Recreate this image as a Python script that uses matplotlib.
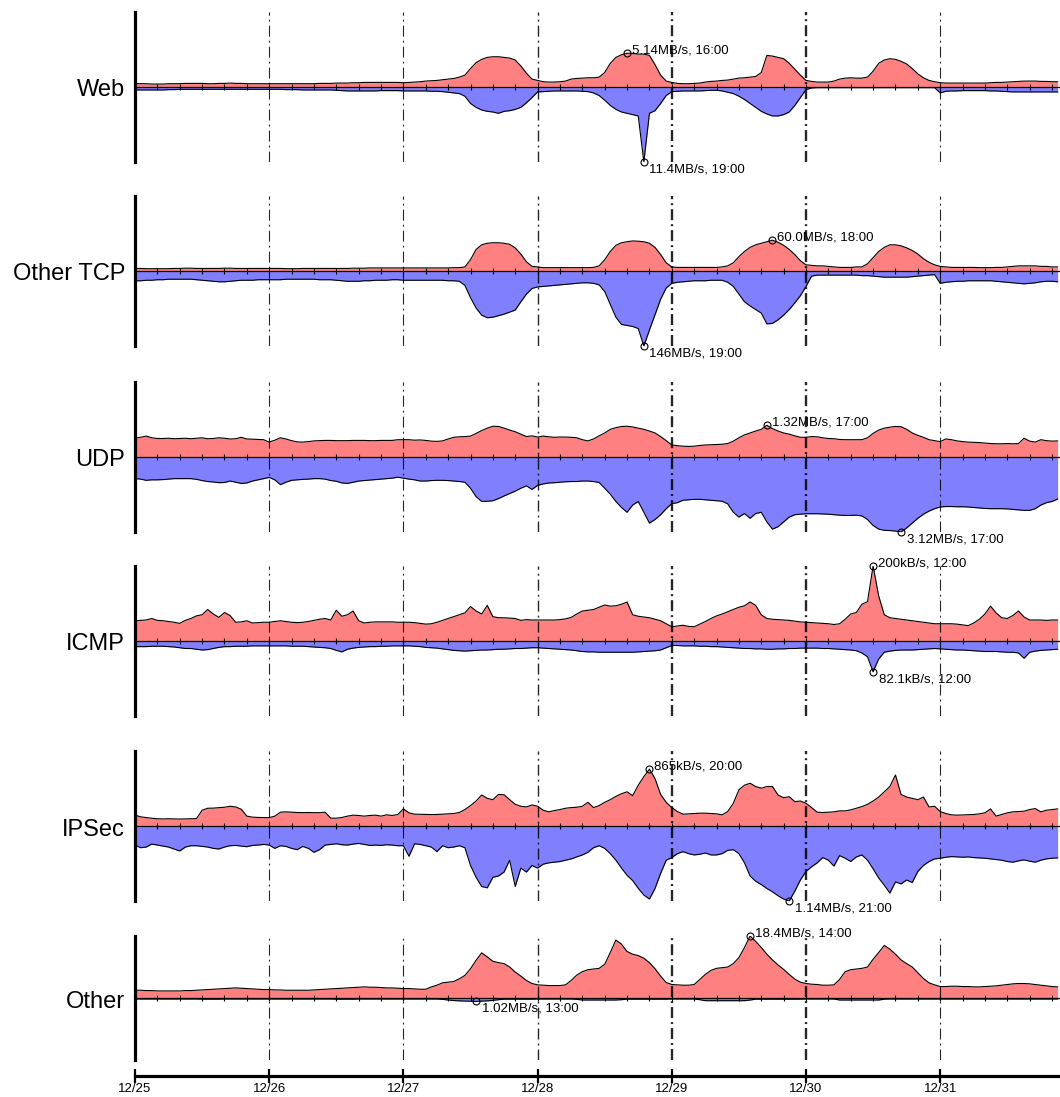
import numpy as np
import matplotlib
matplotlib.use("Agg")
import matplotlib.pyplot as plt

plt.rcParams['lines.scale_dashes'] = False
plt.rcParams['font.family'] = ['Liberation Sans', 'DejaVu Sans']

# ---------------- data (hourly from 12/25 00:00) ----------------
hours = np.arange(166)
day_labels = ['12/25', '12/26', '12/27', '12/28', '12/29', '12/30', '12/31']
panel_names = ['Web', 'Other TCP', 'UDP', 'ICMP', 'IPSec', 'Other']

web_in = [0.55,0.5,0.5,0.45,0.45,0.45,0.5,0.5,0.5,0.55,0.55,0.55,0.55,0.5,0.5,0.55,0.55,0.6,0.55,0.55,0.5,0.5,0.5,0.5,
          0.5,0.5,0.5,0.5,0.5,0.5,0.5,0.5,0.5,0.55,0.55,0.55,0.6,0.6,0.6,0.65,0.65,0.7,0.7,0.7,0.7,0.7,0.7,0.7,
          0.65,0.7,0.75,0.8,0.9,0.95,1.0,1.1,1.2,1.3,1.5,1.8,2.8,3.7,4.2,4.5,4.6,4.6,4.5,4.4,4.1,3.2,2.1,1.2,
          1.0,0.8,0.75,0.75,0.8,0.9,1.2,1.3,1.35,1.4,1.4,1.5,2.2,3.6,4.5,4.9,5.14,5.1,5.0,5.0,4.8,3.4,1.8,0.9,
          0.7,0.55,0.5,0.5,0.55,0.6,0.75,0.85,0.9,1.0,1.05,1.2,1.35,1.4,1.5,1.6,2.2,4.8,4.7,4.5,4.3,3.6,2.7,1.8,
          1.0,0.85,0.75,0.75,0.75,0.9,1.2,1.35,1.4,1.35,1.35,1.5,2.4,3.6,4.1,4.3,4.2,3.9,3.5,2.8,2.0,1.4,1.0,0.8,
          0.65,0.6,0.6,0.6,0.6,0.6,0.6,0.6,0.6,0.65,0.7,0.7,0.75,0.8,0.85,0.9,0.9,0.9,0.85,0.85,0.8,0.8]
web_out = [0.45,0.45,0.45,0.45,0.45,0.45,0.4,0.4,0.35,0.35,0.35,0.35,0.35,0.35,0.35,0.35,0.35,0.35,0.35,0.35,0.35,0.35,0.35,0.35,
           0.35,0.35,0.35,0.4,0.4,0.4,0.45,0.45,0.45,0.45,0.45,0.45,0.5,0.55,0.6,0.6,0.6,0.6,0.6,0.6,0.55,0.55,0.55,0.55,
           0.6,0.6,0.6,0.6,0.6,0.65,0.65,0.7,0.8,0.9,1.0,1.4,2.5,3.1,3.5,3.7,3.8,4.0,3.7,3.6,3.4,3.1,2.4,1.6,
           0.75,0.7,0.65,0.6,0.6,0.6,0.6,0.6,0.65,0.7,0.9,1.3,2.0,2.8,3.4,3.8,4.0,4.2,4.4,11.4,4.0,3.6,2.5,1.3,
           0.7,0.65,0.6,0.6,0.6,0.6,0.55,0.5,0.5,0.6,0.8,1.0,1.4,1.9,2.5,3.1,3.7,4.1,4.4,4.4,4.2,3.8,2.8,1.6,
           0.4,0.15,0.1,0.1,0.1,0.1,0.1,0.1,0.1,0.1,0.1,0.1,0.1,0.1,0.1,0.1,0.1,0.1,0.1,0.1,0.1,0.1,0.1,0.1,
           0.9,0.65,0.6,0.6,0.55,0.55,0.55,0.55,0.55,0.6,0.6,0.65,0.7,0.75,0.75,0.75,0.75,0.75,0.75,0.75,0.75,0.75]

tcp_in = [5,5,4.5,4.5,4.5,4.5,4.5,5,5,5.5,5.5,5,5,5,5,5,5.5,5.5,5,5,5,5,5,5,
          5,5,5,4.5,4.5,4.5,5,5,5,5,5,5,5,5,5,5.5,5.5,5.5,6,6,6,6,6,6,
          6,6,6,6,6,6,6,6,6,6.5,6.5,8,22,42,51,54,55,55,54,52,45,33,18,9,
          8,6.5,6.5,6.5,6.5,6.5,6.5,6.5,6.5,6.5,7,10,22,38,50,55,57,58.5,58,57,54,46,32,16,
          8,7,7,7,7,7,7,7,7,8,10,16,28,38,46,51,54,57,60.0,56,50,42,32,20,
          12,11,10,10,9,8,7,7,7,8,8,14,26,38,46,51,51,49,45,40,33,24,17,12,
          9,8,7,7,7,7,7,6.5,6.5,6.5,7,7,8,9,10,10,10,10,9,9,8,8]
tcp_out = [19,19,18,18,17,17,16,16,16,16,16,17,18,19,20,21,21,20,19,18,18,18,17,17,
           17,17,17,16,16,16,16,16,16,17,17,17,18,19,20,20,20,19,19,18,18,18,17,17,
           18,18,18,18,18,18,18,18,19,19,20,28,52,72,86,91,90,87,84,80,76,60,45,34,
           31,30,29,28,27,26,25,24,23,23,24,27,40,65,90,104,106,108,112,146,115,85,55,33,
           24,22,21,20,19,19,19,18,18,18,22,30,45,60,68,75,82,103,102,95,86,75,62,48,
           30,10,8,8,8,8,8,8,8,8,9,9,10,11,12,12,12,12,12,11,10,9,8,7,
           24,22,21,20,20,19,19,19,19,19,20,21,22,23,24,25,24,23,21,20,20,21]

udp_in = [0.79,0.82,0.87,0.8,0.77,0.77,0.78,0.76,0.77,0.78,0.76,0.78,0.8,0.76,0.77,0.8,0.78,0.75,0.76,0.82,0.75,0.74,0.73,0.72,
          0.62,0.7,0.8,0.75,0.68,0.63,0.62,0.64,0.67,0.68,0.69,0.69,0.68,0.68,0.68,0.69,0.69,0.69,0.68,0.68,0.69,0.69,0.69,0.72,
          0.72,0.72,0.7,0.71,0.69,0.66,0.65,0.67,0.75,0.82,0.84,0.85,0.87,0.98,1.1,1.2,1.28,1.27,1.2,1.12,1.05,0.95,0.85,0.88,
          0.83,0.87,0.84,0.82,0.83,0.83,0.82,0.8,0.72,0.67,0.75,0.88,1.0,1.15,1.22,1.27,1.28,1.25,1.2,1.15,1.08,1.0,0.85,0.68,
          0.5,0.47,0.45,0.44,0.45,0.48,0.5,0.51,0.52,0.53,0.56,0.66,0.8,0.92,1.0,1.08,1.15,1.32,1.18,1.08,1.0,0.95,0.88,0.82,
          0.82,0.85,0.84,0.8,0.77,0.76,0.73,0.72,0.72,0.72,0.72,0.8,0.98,1.12,1.2,1.24,1.27,1.26,1.15,1.0,0.9,0.82,0.72,0.68,
          0.64,0.75,0.72,0.67,0.64,0.62,0.61,0.6,0.58,0.56,0.55,0.55,0.56,0.55,0.56,0.78,0.66,0.62,0.72,0.68,0.66,0.67]
udp_out = [0.9,0.92,0.97,0.95,0.95,0.94,0.92,0.9,0.9,0.9,0.9,0.93,0.98,1.02,1.04,1.07,1.06,1.0,1.05,1.1,1.08,1.0,0.95,0.9,
           0.85,0.95,1.15,1.05,0.97,0.95,0.93,0.92,0.9,0.9,0.92,0.98,1.01,1.08,1.1,1.05,1.0,0.98,0.96,0.94,0.92,0.9,0.88,0.84,
           0.88,0.92,0.95,1.0,1.0,0.98,0.97,0.97,0.98,1.0,1.02,1.05,1.3,1.65,1.85,1.84,1.82,1.73,1.62,1.52,1.42,1.3,1.2,1.35,
           1.18,1.12,1.08,1.07,1.05,1.03,1.02,1.02,1.0,1.0,1.02,1.06,1.3,1.55,1.85,2.1,2.3,2.0,1.85,2.3,2.75,2.6,2.4,2.15,
           1.94,1.9,1.8,1.78,1.76,1.76,1.78,1.8,1.82,1.84,1.95,2.3,2.5,2.35,2.55,2.35,2.3,2.7,3.0,2.9,2.7,2.5,2.4,2.38,
           2.36,2.36,2.36,2.37,2.38,2.4,2.42,2.43,2.43,2.42,2.45,2.6,2.85,3.0,3.05,3.06,3.08,3.12,2.95,2.75,2.55,2.38,2.25,2.15,
           2.08,2.06,2.06,2.07,2.07,2.08,2.1,2.12,2.14,2.15,2.15,2.15,2.16,2.18,2.2,2.22,2.22,2.15,2.0,1.9,1.85,1.75]

icmp_in = [54,55,56,60,55,54,52,50,47,55,60,67,70,84,72,63,76,68,50,51,54,48,49,50,
           50,52,54,52,50,49,50,52,55,58,60,56,82,66,70,80,54,48,50,51,51,51,51,50,
           50,50,49,47,45,46,50,55,60,65,70,75,92,80,72,95,65,62,62,61,60,55,57,56,
           56,56,56,56,57,59,63,72,80,82,84,90,96,93,94,98,104,70,66,64,62,58,54,46,
           38,40,42,39,38,45,52,60,67,72,78,84,90,94,104,95,70,60,58,57,56,55,53,51,
           50,49,48,47,46,44,46,58,72,76,98,105,200,120,70,62,60,58,56,54,52,50,48,46,
           46,46,46,45,43,41,48,58,72,93,75,62,60,68,80,64,56,56,56,55,56,56]
icmp_out = [15,15,15,14,14,14,15,16,18,20,20,22,24,23,20,17,15,15,14,14,14,13,13,13,
            13,13,13,13,14,14,14,15,16,17,18,20,25,29,22,19,17,16,15,15,14,14,13,13,
            13,13,14,15,17,18,19,21,23,25,26,27,26,25,24,24,23,22,22,21,20,20,19,18,
            18,19,20,21,22,23,24,26,28,29,29,30,30,30,30,30,30,30,29,28,27,26,24,18,
            12,12,13,13,13,14,14,15,15,16,17,18,19,20,20,21,21,22,22,21,21,20,20,19,
            19,19,19,20,20,21,22,23,24,26,32,42,82.1,48,30,27,25,24,24,24,23,22,21,20,
            21,22,23,24,24,25,26,27,28,28,28,29,30,30,32,46,30,27,25,24,23,22]

ipsec_in = [165,140,128,118,110,108,110,108,106,108,110,112,240,270,272,278,285,300,290,255,150,135,130,128,
            127,150,210,215,210,205,204,205,203,203,210,120,118,130,150,165,160,150,160,165,150,170,160,175,
            260,200,180,178,176,174,175,180,185,190,205,250,310,380,472,420,400,480,475,400,330,300,290,320,
            300,240,215,235,250,270,280,285,300,360,280,310,360,400,450,490,520,460,620,750,865,720,480,360,
            280,220,180,185,190,195,195,190,185,170,220,345,550,620,650,600,575,600,600,470,430,446,370,380,
            345,280,210,205,210,215,230,230,245,270,295,330,380,440,520,600,776,480,440,420,400,440,290,300,
            220,190,170,165,168,172,175,185,200,260,150,175,200,215,220,225,250,265,215,240,250,260]
ipsec_out = [290,330,320,275,290,305,320,350,380,320,300,300,310,320,340,350,320,300,295,305,315,295,290,280,
             290,340,300,310,340,360,310,340,400,360,290,280,270,285,290,275,265,280,295,290,295,285,290,300,
             300,460,270,280,300,320,390,300,330,320,300,330,600,780,920,940,780,760,700,520,920,640,700,600,
             640,580,560,550,540,520,500,470,440,400,330,300,340,420,520,640,750,830,948,1050,1110,950,720,520,
             480,420,390,420,440,430,410,440,440,420,370,360,420,560,760,840,890,950,1000,1060,1110,1140,990,820,
             690,620,560,480,520,610,450,490,540,470,440,520,650,790,900,1020,850,880,820,860,690,600,540,500,
             490,475,465,470,475,470,480,485,490,500,510,520,540,550,530,515,535,550,520,500,490,485]

other_in = [2.3,2.3,2.2,2.2,2.1,2.1,2.1,2.1,2.1,2.2,2.2,2.3,2.4,2.5,2.6,2.7,2.8,2.9,3.0,2.9,2.8,2.7,2.6,2.5,
            2.5,2.4,2.4,2.3,2.3,2.3,2.3,2.3,2.4,2.5,2.6,2.7,2.8,2.9,3.0,3.1,3.2,3.3,3.2,3.2,3.1,3.0,3.0,2.9,
            2.8,2.8,2.7,2.6,2.6,3.3,3.8,4.5,4.7,4.9,5.7,6.7,8.7,11.2,13.4,12.2,10.9,10.5,10.2,9.2,7.7,6.5,5.2,4.3,
            3.9,3.8,3.7,3.7,3.7,3.9,5.2,6.8,7.8,8.4,8.6,8.8,10.0,13.5,17.2,16.0,13.8,13.0,12.6,11.8,10.5,8.7,6.5,4.6,
            4.0,3.9,3.8,3.8,4.0,5.5,7.0,8.2,8.8,9.0,9.2,10.2,12.0,15.0,18.4,16.8,15.0,13.0,11.3,9.8,8.5,7.0,5.6,4.7,
            4.3,4.1,4.0,3.8,3.8,3.9,5.5,7.8,8.4,8.6,8.8,9.2,11.5,13.5,15.6,14.5,13.0,11.3,10.2,9.2,7.5,5.8,4.5,3.9,
            3.4,3.4,3.5,3.5,3.4,3.4,3.3,3.3,3.4,3.5,3.6,3.8,4.0,4.2,4.3,4.3,4.2,4.0,3.8,3.6,3.4,3.3]
other_out = [0.3,0.3,0.3,0.3,0.3,0.3,0.3,0.3,0.3,0.3,0.3,0.3,0.35,0.35,0.35,0.35,0.3,0.3,0.3,0.3,0.3,0.3,0.3,0.3,
             0.3,0.3,0.3,0.3,0.3,0.3,0.3,0.3,0.3,0.3,0.3,0.3,0.35,0.35,0.35,0.35,0.3,0.3,0.3,0.3,0.3,0.3,0.3,0.3,
             0.3,0.3,0.3,0.3,0.3,0.3,0.3,0.4,0.6,0.75,0.85,0.9,0.95,1.02,0.95,0.85,0.7,0.5,0.35,0.35,0.35,0.35,0.35,0.35,
             0.3,0.3,0.3,0.3,0.3,0.3,0.3,0.4,0.6,0.6,0.6,0.6,0.6,0.6,0.6,0.5,0.35,0.35,0.35,0.35,0.35,0.35,0.35,0.35,
             0.3,0.3,0.3,0.3,0.3,0.5,0.8,0.8,0.8,0.8,0.8,0.8,0.8,0.8,0.6,0.35,0.35,0.35,0.35,0.35,0.35,0.35,0.35,0.35,
             0.3,0.3,0.3,0.3,0.3,0.3,0.6,0.6,0.6,0.6,0.6,0.6,0.6,0.6,0.35,0.3,0.3,0.3,0.3,0.3,0.3,0.3,0.3,0.3,
             0.3,0.3,0.3,0.3,0.3,0.3,0.3,0.3,0.3,0.3,0.3,0.3,0.3,0.3,0.3,0.3,0.3,0.3,0.3,0.3,0.3,0.3]

series_in = [web_in, tcp_in, udp_in, icmp_in, ipsec_in, other_in]
series_out = [web_out, tcp_out, udp_out, icmp_out, ipsec_out, other_out]
peak_in_labels = ['5.14MB/s, 16:00', '60.0MB/s, 18:00', '1.32MB/s, 17:00',
                  '200kB/s, 12:00', '865kB/s, 20:00', '18.4MB/s, 14:00']
peak_out_labels = ['11.4MB/s, 19:00', '146MB/s, 19:00', '3.12MB/s, 17:00',
                   '82.1kB/s, 12:00', '1.14MB/s, 21:00', '1.02MB/s, 13:00']

# ---------------- layout ----------------
W, H = 1060, 1097
fig = plt.figure(figsize=(W / 100, H / 100), dpi=100)
X0, X1 = 135, 1060
px_per_hour = 134.2 / 24
xmax = (X1 - X0) / px_per_hour
centers = [87, 271, 457, 641, 826, 998]
halves = [75, 75, 75, 75, 75, 62]
RED, BLUE = '#FF8080', '#8080FF'
dashdot = (0, (7.9, 2.9, 1.4, 2.9))
grid_lw = [0.8, 0.8, 1.0, 1.7, 1.7, 0.8]

for i, name in enumerate(panel_names):
    c, h = centers[i], halves[i]
    ax = fig.add_axes([X0 / W, 1 - (c + h) / H, (X1 - X0) / W, 2 * h / H])
    up = np.array(series_in[i], dtype=float)
    dn = np.array(series_out[i], dtype=float)
    lim = max(up.max(), dn.max())
    ax.set_xlim(0, xmax)
    ax.set_ylim(-lim, lim)
    ax.patch.set_alpha(0)
    ax.fill_between(hours, 0, up, color=RED, lw=0, zorder=1)
    ax.fill_between(hours, 0, -dn, color=BLUE, lw=0, zorder=1)
    ax.plot(hours, up, color='k', lw=0.8, zorder=2)
    ax.plot(hours, -dn, color='k', lw=0.8, zorder=2)
    ax.axhline(0, color='k', lw=0.9, zorder=3)
    ticks = np.arange(4, xmax, 4)
    ax.plot(ticks, np.zeros_like(ticks), ls='none', marker='|', ms=5,
            mew=0.8, color='k', zorder=3)
    for d in range(1, 7):
        ax.axvline(24 * d, color='k', lw=grid_lw[d - 1], ls=dashdot,
                   alpha=0.85, zorder=4)
    for s in ['top', 'right', 'bottom']:
        ax.spines[s].set_visible(False)
    ax.spines['left'].set_linewidth(2.3)
    ax.set_xticks([])
    ax.set_yticks([])
    fig.text(125 / W, 1 - (c + 1) / H, name, ha='right', va='center_baseline',
             fontsize=17)

    # peak markers
    iu = int(np.argmax(up))
    idn = int(np.argmax(dn))
    ax.plot([hours[iu]], [up[iu]], 'o', mfc='none', mec='k', ms=5, mew=0.8,
            clip_on=False, zorder=5)
    ax.annotate(peak_in_labels[i], xy=(hours[iu], up[iu]), xytext=(3.5, 0),
                textcoords='offset points', ha='left', va='baseline',
                fontsize=9.5, annotation_clip=False)
    ax.plot([hours[idn]], [-dn[idn]], 'o', mfc='none', mec='k', ms=5, mew=0.8,
            clip_on=False, zorder=5)
    ax.annotate(peak_out_labels[i], xy=(hours[idn], -dn[idn]), xytext=(4, -1),
                textcoords='offset points', ha='left', va='top',
                fontsize=9.5, annotation_clip=False)

# bottom time axis
axb = fig.add_axes([X0 / W, 1 - 1076 / H, (X1 - X0) / W, 0.0001])
axb.set_xlim(0, xmax)
axb.patch.set_alpha(0)
for s in ['top', 'right', 'left']:
    axb.spines[s].set_visible(False)
axb.spines['bottom'].set_linewidth(2.3)
axb.set_yticks([])
axb.set_xticks(24 * np.arange(len(day_labels)))
axb.set_xticklabels(day_labels, family=['Liberation Sans Narrow', 'Liberation Sans'],
                    fontsize=9.5)
axb.tick_params(axis='x', direction='inout', length=10, width=1.6, pad=0)

fig.savefig('out.png', dpi=100)
